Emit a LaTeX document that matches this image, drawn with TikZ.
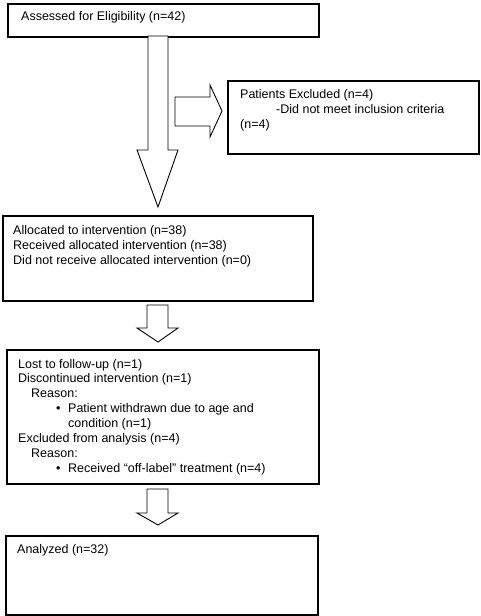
\documentclass[tikz,border=0pt]{standalone}
\usepackage{fontspec}
\setmainfont{Liberation Sans}
\begin{document}
\begin{tikzpicture}[x=1pt,y=-1pt,
  box/.style={draw=black, line width=1.8pt, anchor=north west, inner sep=0pt},
  barrow/.style={draw=black, fill=white, line width=0.9pt, line join=miter},
  txt/.style={anchor=base west, inner sep=0pt, font=\fontsize{12.5}{14.7}\selectfont}]
\useasboundingbox (0,0) rectangle (480,616);
% boxes
\node[box, minimum width=311pt, minimum height=33pt] (b1) at (7,3) {};
\node[box, minimum width=251pt, minimum height=73pt] (b2) at (227,80) {};
\node[box, minimum width=310pt, minimum height=85pt] (b3) at (2,215) {};
\node[box, minimum width=312pt, minimum height=134pt] (b4) at (6,349) {};
\node[box, minimum width=312pt, minimum height=79pt] (b5) at (5,535) {};
% block arrows
\draw[barrow] (148,36) -- (148,150) -- (137,150) -- (158,207) -- (178,150) -- (168,150) -- (168,36) -- cycle;
\draw[barrow] (175,97) -- (210,97) -- (210,85) -- (222,111) -- (210,137) -- (210,126) -- (175,126) -- cycle;
\draw[barrow] (147,305) -- (147,328) -- (137,328) -- (158,342) -- (178,328) -- (168,328) -- (168,305) -- cycle;
\draw[barrow] (147,489) -- (147,513) -- (137,513) -- (158,525) -- (178,513) -- (168,513) -- (168,489) -- cycle;
% texts
\node[txt] (t1) at (21,20) {Assessed for Eligibility (n=42)};
\node[txt] (t2a) at (240,98) {Patients Excluded (n=4)};
\node[txt] (t2b) at (276,113) {-Did not meet inclusion criteria};
\node[txt] (t2c) at (240,128) {(n=4)};
\node[txt] (t3a) at (13,234) {Allocated to intervention (n=38)};
\node[txt] (t3b) at (13,249) {Received allocated intervention (n=38)};
\node[txt] (t3c) at (13,264) {Did not receive allocated intervention (n=0)};
\node[txt] (t4a) at (18,368) {Lost to follow-up (n=1)};
\node[txt] (t4b) at (18,382) {Discontinued intervention (n=1)};
\node[txt] (t4c) at (31,397) {Reason:};
\node[txt] (t4d) at (56,412) {•};
\node[txt] (t4e) at (68,412) {Patient withdrawn due to age and};
\node[txt] (t4f) at (68,427) {condition (n=1)};
\node[txt] (t4g) at (18,442) {Excluded from analysis (n=4)};
\node[txt] (t4h) at (31,457) {Reason:};
\node[txt] (t4i) at (56,472) {•};
\node[txt] (t4j) at (68,472) {Received “off-label” treatment (n=4)};
\node[txt] (t5) at (17,553) {Analyzed (n=32)};
\end{tikzpicture}
\end{document}
